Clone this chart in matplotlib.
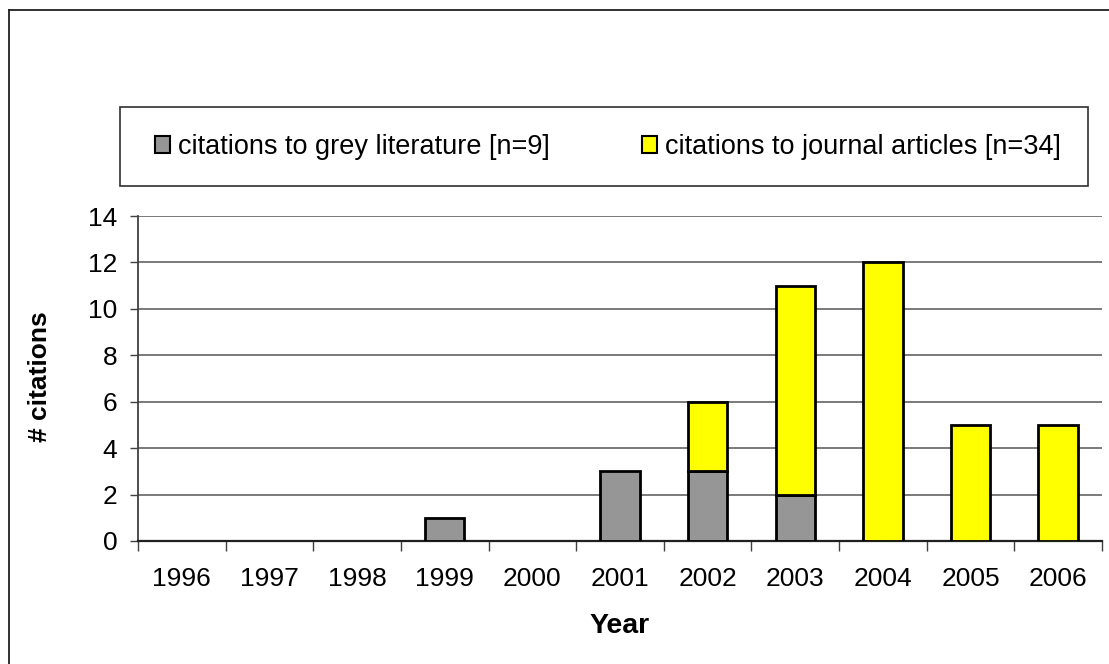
import numpy as np
import matplotlib.pyplot as plt
from matplotlib.patches import Patch, Rectangle
from matplotlib.lines import Line2D

plt.rcParams['font.family'] = ['Liberation Sans', 'DejaVu Sans']

years = ['1996', '1997', '1998', '1999', '2000', '2001', '2002', '2003', '2004', '2005', '2006']
grey_lit = [0, 0, 0, 1, 0, 3, 3, 2, 0, 0, 0]
journal = [0, 0, 0, 0, 0, 0, 3, 9, 12, 5, 5]
labels = ['citations to grey literature [n=9]', 'citations to journal articles [n=34]']

grey_c = '#969696'
yellow_c = '#ffff00'

fig = plt.figure(figsize=(11.09, 6.64), dpi=100)
W, H = 1109, 664
ax = fig.add_axes([138 / W, 1 - 541 / H, 964 / W, 325 / H])

x = np.arange(len(years))
g = np.array(grey_lit)
j = np.array(journal)
# only draw non-zero segments
mg = g > 0
mj = j > 0
ax.bar(x[mg], g[mg], width=0.45, color=grey_c, edgecolor='black', linewidth=2, zorder=3)
ax.bar(x[mj], j[mj], bottom=g[mj], width=0.45, color=yellow_c, edgecolor='black', linewidth=2, zorder=3)

ax.set_xlim(-0.5, len(years) - 0.5)
ax.set_ylim(0, 14)
ax.set_yticks(np.arange(0, 15, 2))
ax.yaxis.grid(True, color='#707070', linewidth=1.3)
ax.set_axisbelow(True)

# ticks between categories, labels at centres
ax.set_xticks(np.arange(-0.5, len(years), 1))
ax.set_xticklabels([])
ax.set_xticks(x, minor=True)
ax.set_xticklabels(years, minor=True)
ax.tick_params(axis='x', which='major', direction='out', length=7, width=1, color='#404040')
ax.tick_params(axis='x', which='minor', length=0, pad=19, labelsize=19)
ax.tick_params(axis='y', direction='out', length=6, width=1, color='#404040', pad=9, labelsize=19)

for s in ['top', 'right']:
    ax.spines[s].set_visible(False)
ax.spines['left'].set_color('#404040')
ax.spines['left'].set_linewidth(1.3)
ax.spines['bottom'].set_color('#202020')
ax.spines['bottom'].set_linewidth(1.6)

ax.set_xlabel('Year', fontsize=20.5, fontweight='bold')
ax.xaxis.set_label_coords(0.5, -0.222)
ax.set_ylabel('# citations', fontsize=19, fontweight='bold')
ax.yaxis.set_label_coords(-0.089, 0.505)

# legend box
fig.patches.append(Rectangle((120 / W, 1 - 186 / H), 968 / W, 79 / H, transform=fig.transFigure,
                             fill=False, edgecolor='#303030', linewidth=1.2))
handles = [Patch(facecolor=grey_c, edgecolor='black', linewidth=1.5),
           Patch(facecolor=yellow_c, edgecolor='black', linewidth=1.5)]
fig.legend(handles, labels, loc='center', bbox_to_anchor=(608 / W, 1 - 147 / H), ncol=2,
           frameon=False, fontsize=19.5, handlelength=0.55, handleheight=0.55,
           handletextpad=0.3, columnspacing=3.4)

# outer chart frame
fig.lines.append(Line2D([8.5 / W, 8.5 / W], [0, 1 - 10 / H], transform=fig.transFigure, color='#202020', lw=1.3))
fig.lines.append(Line2D([8.5 / W, 1], [1 - 10 / H, 1 - 10 / H], transform=fig.transFigure, color='#202020', lw=1.3))

fig.savefig('out.png', dpi=100)
